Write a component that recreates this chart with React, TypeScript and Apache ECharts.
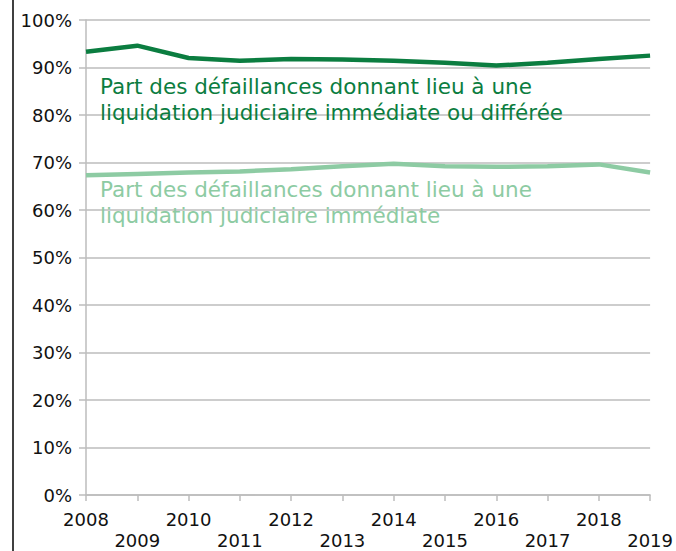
import React, { useEffect, useRef } from "react";
import * as echarts from "echarts";

const years = ["2008","2009","2010","2011","2012","2013","2014","2015","2016","2017","2018","2019"];
const totalLiquidation = [93.3, 94.6, 92.0, 91.4, 91.8, 91.7, 91.4, 91.0, 90.4, 91.0, 91.8, 92.5];
const immediateLiquidation = [67.3, 67.6, 67.9, 68.1, 68.6, 69.2, 69.75, 69.2, 69.1, 69.2, 69.6, 67.9];
const labelDark = ["Part des défaillances donnant lieu à une", "liquidation judiciaire immédiate ou différée"];
const labelLight = ["Part des défaillances donnant lieu à une", "liquidation judiciaire immédiate"];

const DARK = "#0b7d40";
const LIGHT = "#8dcba3";
const FONT = "DejaVu Sans";

export default function App() {
  const ref = useRef<HTMLDivElement>(null);
  useEffect(() => {
    if (!ref.current) return;
    const chart = echarts.init(ref.current, null, { renderer: "svg" });
    chart.setOption({
      animation: false,
      backgroundColor: "#ffffff",
      grid: { left: 86, right: 25, top: 20, bottom: 55, containLabel: false },
      xAxis: {
        type: "category",
        data: years,
        boundaryGap: false,
        axisLine: { lineStyle: { color: "#bcbcbc", width: 1.5 } },
        axisTick: { show: true, length: 6, interval: 0, lineStyle: { color: "#bcbcbc", width: 1.5 } },
        axisLabel: {
          interval: 0,
          margin: 14,
          color: "#111",
          fontFamily: FONT,
          fontSize: 18,
          lineHeight: 21,
          formatter: (v: string, i: number) => (i % 2 === 1 ? "\n" + v : v),
        },
        splitLine: { show: false },
      },
      yAxis: {
        type: "value",
        min: 0,
        max: 100,
        interval: 10,
        axisLine: { show: true, lineStyle: { color: "#bcbcbc", width: 1.5 } },
        axisTick: { show: true, length: 7, lineStyle: { color: "#bcbcbc", width: 1.5 } },
        axisLabel: { formatter: "{value}%", margin: 14, color: "#111", fontFamily: FONT, fontSize: 18 },
        splitLine: { show: true, lineStyle: { color: "#bcbcbc", width: 1.5 } },
      },
      series: [
        {
          type: "line",
          data: totalLiquidation,
          symbol: "none",
          lineStyle: { color: DARK, width: 4.5 },
          z: 3,
        },
        {
          type: "line",
          data: immediateLiquidation,
          symbol: "none",
          lineStyle: { color: LIGHT, width: 4.5 },
          z: 2,
        },
      ],
      graphic: [
        { type: "line", shape: { x1: 13, y1: 0, x2: 13, y2: 551 }, style: { stroke: "#000", lineWidth: 1.5 } },
        {
          type: "text",
          x: 100,
          y: 74,
          style: { text: labelDark.join("\n"), fill: DARK, font: `21.5px "${FONT}"`, lineHeight: 25.5 },
          z: 10,
        },
        {
          type: "text",
          x: 100,
          y: 177,
          style: { text: labelLight.join("\n"), fill: LIGHT, font: `21.5px "${FONT}"`, lineHeight: 25.5 },
          z: 10,
        },
      ],
    });
    return () => chart.dispose();
  }, []);
  return <div ref={ref} style={{ position: "fixed", left: 0, top: 0, width: 676, height: 551 }} />;
}
